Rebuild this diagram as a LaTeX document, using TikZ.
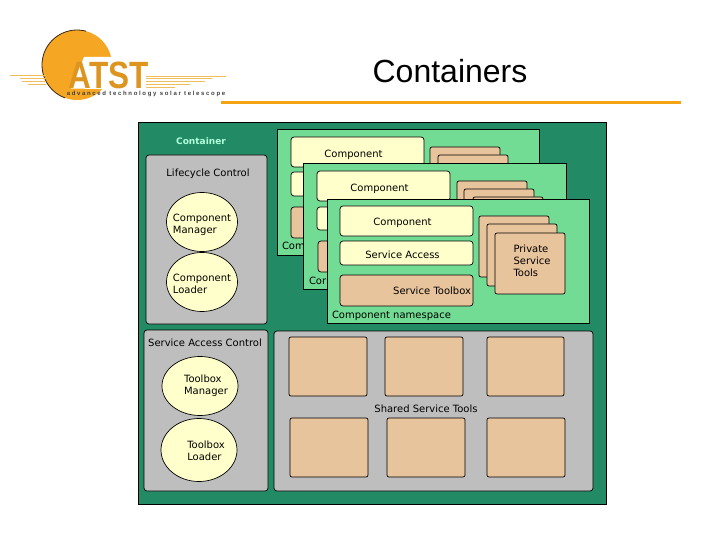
\documentclass[tikz,border=0pt]{standalone}
\usepackage{fontspec}
\usepackage{xcolor}
\usetikzlibrary{shapes,positioning}
\setmainfont{Liberation Sans}
\newfontfamily\diagfont{DejaVu Sans}
\definecolor{sunorange}{RGB}{245, 166, 35}
\definecolor{rulegold}{RGB}{243, 163, 20}
\definecolor{streakgold}{RGB}{240, 190, 90}
\definecolor{containergreen}{RGB}{34, 139, 101}
\definecolor{spacegreen}{RGB}{114, 220, 148}
\definecolor{paleyellow}{RGB}{255, 255, 204}
\definecolor{tan}{RGB}{232, 196, 156}
\definecolor{panelgrey}{RGB}{190, 190, 190}
\begin{document}
\begin{tikzpicture}[
    x=1pt, y=-1pt,
    every node/.style={align=center, font=\diagfont\fontsize{10}{12}\selectfont, outer sep=0pt, inner sep=0pt},
    every label/.style={align=left},
    panel/.style={rectangle, rounded corners=3pt, anchor=north west, draw=black, line width=0.7pt, fill=panelgrey},
    namespace/.style={rectangle, anchor=north west, minimum width=262pt, minimum height=125pt, draw=black, line width=0.8pt, fill=spacegreen},
    compbox/.style={rectangle, rounded corners=3pt, anchor=north west, minimum width=133pt, minimum height=30pt, draw=black, line width=0.7pt, fill=paleyellow},
    accessbox/.style={compbox, minimum height=24pt},
    toolboxbox/.style={compbox, minimum height=31pt, fill=tan},
    card/.style={rectangle, rounded corners=2pt, anchor=north west, minimum width=70pt, minimum height=61pt, draw=black, line width=0.7pt, fill=tan},
    sharedtool/.style={card, minimum width=78pt, minimum height=59pt},
    circ/.style={ellipse, draw=black, line width=0.7pt, fill=paleyellow, minimum width=71pt, minimum height=59pt},
    streak/.style={streakgold, line width=1pt}
]
\useasboundingbox (0,0) rectangle (720,540);

% Logo
\fill[sunorange] (77,65) circle (35);
\draw[black!70!brown, line width=0.8pt] (77,65) ++(-75:35) arc (-75:-250:35);
\fill[white] (71,88.5) -- (84,57) -- (152,57) -- (152,90) -- cycle;
\foreach \yy/\xa/\xb in {76/10/46, 79/20/46, 82/22/46, 85/28/46} {
    \draw[streak] (\xa,\yy) -- (\xb,\yy);
}
\foreach \yy/\xa/\xb in {77/146/226, 79/146/212, 82/146/205, 85/146/190, 88/146/175} {
    \draw[streak] (\xa,\yy) -- (\xb,\yy);
}
\node[anchor=south, text height=28pt, text depth=0pt, font=\bfseries\fontsize{38}{38}\selectfont, text=sunorange!90!black] (atst) at (109,88.5) {\scalebox{0.83}[1]{ATST}};
\node[font=\fontsize{6}{6}\selectfont\bfseries, text=black!75] (motto) at (146,93.5) {a d v a n c e d\ \ t e c h n o l o g y\ \ s o l a r\ \ t e l e s c o p e};

% Title
\node[font=\fontsize{32}{36}\selectfont] (title) at (450,71) {Containers};
\fill[rulegold] (221,101.5) rectangle (681,104.5);

% Container
\node[rectangle, anchor=north west, minimum width=468pt, minimum height=382pt, draw=black, line width=0.6pt, fill=containergreen] (container) at (138,122) {};
\node[font=\diagfont\bfseries\fontsize{9}{10}\selectfont, text=paleyellow!70!cyan] (containerlabel) at (201,141) {Container};

% Lifecycle control
\node[panel, minimum width=121pt, minimum height=169pt] (lifecycle) at (146,155) {};
\node (lifecyclelabel) at (208,174) {Lifecycle Control};
\node[circ, label={[yshift=-3pt]center:Component\\Manager}] (compmanager) at (202,222) {};
\node[circ, label={[yshift=-2pt]center:Component\\Loader}] (comploader) at (202,282) {};

% Service access control
\node[panel, minimum width=124pt, minimum height=161pt] (accesscontrol) at (144,330) {};
\node (accesslabel) at (205,343) {Service Access Control};
\node[circ, minimum width=76pt, label={[xshift=6pt]center:Toolbox\\Manager}] (toolmanager) at (200,386) {};
\node[circ, minimum width=76pt, minimum height=63pt, label={[xshift=7pt,yshift=-1pt]center:Toolbox\\Loader}] (toolloader) at (199,450) {};

% Shared service tools
\node[panel, minimum width=319pt, minimum height=160pt] (shared) at (274,331) {};
\node (sharedlabel) at (426,409) {Shared Service Tools};
\node[sharedtool] (toolA) at (289,337) {};
\node[sharedtool] (toolB) at (385,337) {};
\node[sharedtool, minimum width=77pt] (toolC) at (487,337) {};
\node[sharedtool] (toolD) at (290,418) {};
\node[sharedtool] (toolE) at (387,418) {};
\node[sharedtool] (toolF) at (487,418) {};

% Back namespace
\node[namespace, minimum height=126pt] (spaceA) at (277,129) {};
\node[compbox, label={[xshift=-4pt,yshift=-3pt]center:Component}] (compA) at (291,137) {};
\node[accessbox] (accessA) at (291,172) {};
\node[toolboxbox] (toolboxA) at (291,207) {};
\node[card] (cardA) at (430,147) {};
\node[card] (cardAA) at (438,155) {};
\node[anchor=west] (labelA) at (282,246) {Com};

% Middle namespace
\node[namespace, minimum width=263pt, minimum height=126pt] (spaceB) at (303,163) {};
\node[compbox, label={[xshift=-4pt,yshift=-3pt]center:Component}] (compB) at (317,171) {};
\node[accessbox, minimum height=23pt] (accessB) at (317,207) {};
\node[toolboxbox] (toolboxB) at (318,241) {};
\node[card] (cardB) at (457,181) {};
\node[card] (cardBB) at (464,189) {};
\node[card] (cardBBB) at (473,197) {};
\node[anchor=west] (labelB) at (309,281) {Cor};

% Front namespace
\node[namespace, minimum height=124pt] (spaceC) at (327,199) {};
\node[compbox, label={[xshift=-4pt,yshift=-2pt]center:Component}] (compC) at (340,206) {};
\node[accessbox, label={[xshift=-4pt,yshift=-2pt]center:Service Access}] (accessC) at (340,241) {};
\node[toolboxbox, text width=129pt, align=right] (toolboxC) at (340,275) {Service Toolbox};
\node[card] (cardC) at (479,216) {};
\node[card, minimum height=62pt] (cardCC) at (487,224) {};
\node[card, label={[xshift=2pt,yshift=3pt]center:Private\\Service\\Tools}] (cardCCC) at (495,233) {};
\node[anchor=west] (labelC) at (332,316) {Component namespace};

\end{tikzpicture}
\end{document}
